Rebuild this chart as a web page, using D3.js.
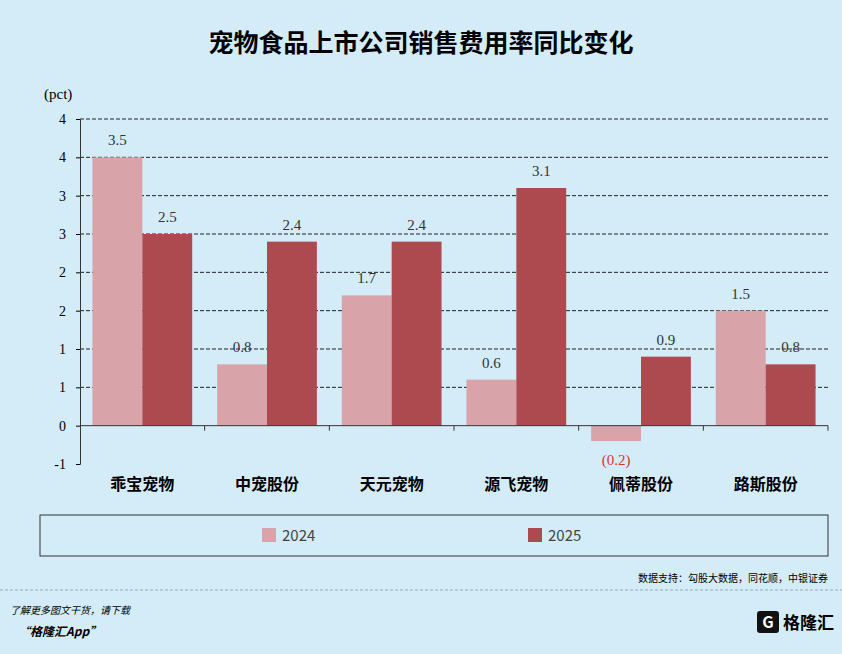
<!DOCTYPE html><html><head><meta charset="utf-8"><script src="https://cdn.jsdelivr.net/npm/d3@7"></script>
<style>body{margin:0;background:#d3ecf8;}svg{font-family:"Noto Sans CJK SC","Noto Sans",sans-serif;}</style></head><body>
<svg id="c" width="842" height="654"></svg>
<script>
const categories=["乖宝宠物","中宠股份","天元宠物","源飞宠物","佩蒂股份","路斯股份"];
const series=["2024","2025"];
const v2024=[3.5,0.8,1.7,0.6,-0.2,1.5];
const v2025=[2.5,2.4,2.4,3.1,0.9,0.8];
const tickValues=[-0.5,0,0.5,1,1.5,2,2.5,3,3.5,4];
const tickLabels=["-1","0","1","1","2","2","3","3","4","4"];
const colors=["#d8a4a9","#ad4a50"];
const svg=d3.select("#c");
svg.append("rect").attr("width",842).attr("height",654).attr("fill","#d3ecf8");
svg.append("text").attr("x",421).attr("y",52).attr("text-anchor","middle").attr("font-size",25).attr("font-weight","bold").text("宠物食品上市公司销售费用率同比变化");
const L=80,R=828;
const y=d3.scaleLinear().domain([-0.5,4]).range([464,119]);
const x=d3.scaleBand().domain(categories).range([L,R]).paddingInner(0.2).paddingOuter(0.1);
const x0=d3.scaleBand().domain(categories).range([L,R]);
const xs=d3.scaleBand().domain(series).range([0,x.bandwidth()]);
svg.append("g").selectAll("line").data(tickValues.filter(d=>d!==0&&d!==-0.5)).join("line")
 .attr("x1",L).attr("x2",R).attr("y1",d=>y(d)).attr("y2",d=>y(d)).attr("stroke","#222").attr("stroke-dasharray","4,2");
const ya=svg.append("g").attr("transform",`translate(${L},0)`).call(d3.axisLeft(y).tickValues(tickValues).tickFormat((d,i)=>tickLabels[i]).tickSize(4));
ya.selectAll("text").attr("font-size",14).attr("font-family","Liberation Serif, serif").attr("x",-14);
ya.select(".domain").attr("stroke","#333");
svg.append("text").attr("x",44).attr("y",99).attr("font-size",15).attr("font-family","Liberation Serif, serif").text("(pct)");
const data=[v2024,v2025];
series.forEach((s,si)=>{
 const g=svg.append("g");
 g.selectAll("rect").data(categories).join("rect")
  .attr("x",c=>x(c)+xs(s)).attr("width",xs.bandwidth())
  .attr("y",(c,i)=>y(Math.max(0,data[si][i]))).attr("height",(c,i)=>Math.abs(y(data[si][i])-y(0)))
  .attr("fill",colors[si]);
 g.selectAll("text").data(categories).join("text")
  .attr("x",c=>x(c)+xs(s)+xs.bandwidth()/2)
  .attr("y",(c,i)=>data[si][i]<0?y(data[si][i])+24:y(data[si][i])-12)
  .attr("text-anchor","middle").attr("font-size",15).attr("font-family","Liberation Serif, serif")
  .attr("fill",(c,i)=>data[si][i]<0?"#e03030":"#333")
  .text((c,i)=>data[si][i]<0?`(${Math.abs(data[si][i]).toFixed(1)})`:data[si][i].toFixed(1));
});
svg.append("line").attr("x1",L).attr("x2",R).attr("y1",y(0)).attr("y2",y(0)).attr("stroke","#333");
svg.append("g").selectAll("line").data(categories.slice(1).concat(["end"])).join("line")
 .attr("x1",(c,i)=>L+x0.step()*(i+1)).attr("x2",(c,i)=>L+x0.step()*(i+1)).attr("y1",y(0)).attr("y2",y(0)+5).attr("stroke","#333");
svg.append("g").selectAll("text").data(categories).join("text")
 .attr("x",c=>x0(c)+x0.bandwidth()/2).attr("y",490).attr("text-anchor","middle").attr("font-size",16).attr("font-weight","bold").text(c=>c);
svg.append("rect").attr("x",40).attr("y",515).attr("width",788).attr("height",41).attr("fill","none").attr("stroke","#333");
series.forEach((s,i)=>{
 const lx=[262,528][i];
 svg.append("rect").attr("x",lx).attr("y",528).attr("width",14).attr("height",14).attr("fill",colors[i]);
 svg.append("text").attr("x",lx+20).attr("y",541).attr("font-size",15).attr("fill","#444").text(s);
});
svg.append("text").attr("x",828).attr("y",582).attr("text-anchor","end").attr("font-size",10).text("数据支持：勾股大数据，同花顺，中银证券");
svg.append("line").attr("x1",0).attr("x2",842).attr("y1",590).attr("y2",590).attr("stroke","#9ab").attr("stroke-dasharray","3,2");
svg.append("text").attr("x",10).attr("y",614).attr("font-size",10).attr("font-style","italic").text("了解更多图文干货，请下载");
svg.append("text").attr("x",18).attr("y",636).attr("font-size",12).attr("font-style","italic").attr("font-weight","bold").text("“格隆汇App”");
svg.append("rect").attr("x",757).attr("y",611).attr("width",22).attr("height",22).attr("rx",3).attr("fill","#111");
svg.append("text").attr("x",768).attr("y",628).attr("text-anchor","middle").attr("fill","#fff").attr("font-size",16).attr("font-weight","bold").text("G");
svg.append("text").attr("x",783).attr("y",629).attr("font-size",17).attr("font-weight","bold").text("格隆汇");
</script></body></html>
